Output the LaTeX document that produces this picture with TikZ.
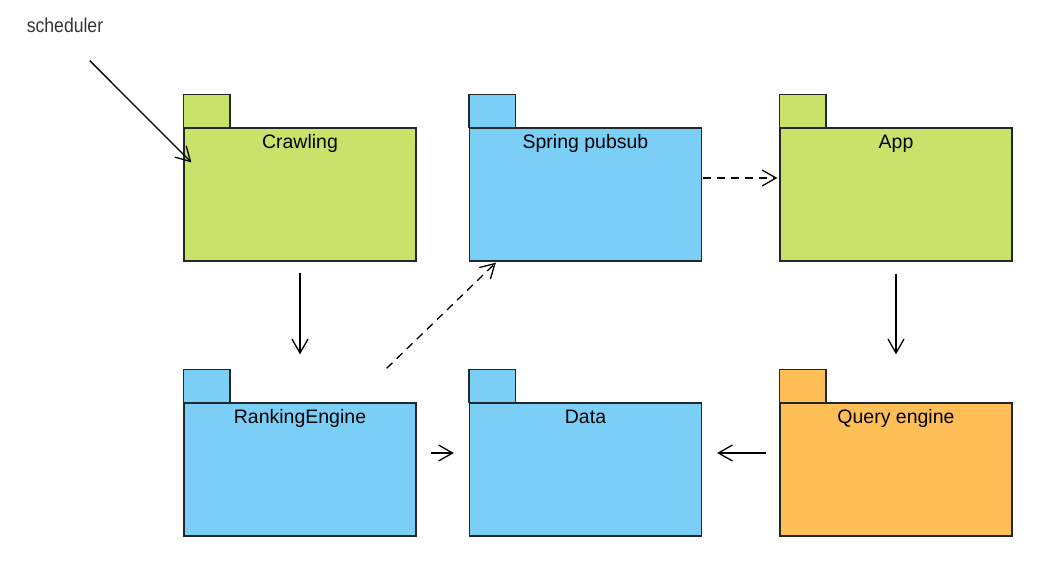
\documentclass[tikz,border=0pt]{standalone}
\usepackage{fontspec}
\setmainfont{Liberation Sans}
\usetikzlibrary{arrows.meta}
\definecolor{pkggreen}{RGB}{203,226,106}
\definecolor{pkgblue}{RGB}{123,206,245}
\definecolor{pkgorange}{RGB}{255,190,86}
\definecolor{pkgline}{RGB}{34,40,40}

\begin{document}
\begin{tikzpicture}[
  x=1pt, y=-1pt,
  pkg/.style={draw=pkgline, line width=1.3pt, minimum width=232pt, minimum height=133pt, inner sep=0pt},
  pkgname/.style={anchor=base, yshift=-21pt, font=\fontsize{19.5}{22}\selectfont, text=black},
  pkgtab/.style={draw=pkgline, line width=1.3pt},
  arr/.style={-{Straight Barb[length=14pt, width=16pt, line width=1.3pt]}, line width=1.3pt},
  dep/.style={arr, dash pattern=on 8pt off 6pt}
]

\useasboundingbox (0,0) rectangle (1058,572);

\node[text=black!80, font=\fontsize{20}{22}\selectfont] (sched) at (65,25) {\scalebox{0.88}[1]{scheduler}};

\node[pkg, fill=pkggreen, label={[pkgname]north:Crawling}] (crawl) at (300,194.5) {};
\node[pkg, fill=pkgblue, label={[pkgname]north:Spring pubsub}] (pubsub) at (585.5,194.5) {};
\node[pkg, fill=pkggreen, label={[pkgname]north:App}] (app) at (896,194.5) {};
\node[pkg, fill=pkgblue, label={[pkgname]north:RankingEngine}] (rank) at (300,469.5) {};
\node[pkg, fill=pkgblue, label={[pkgname]north:Data}] (data) at (585.5,469.5) {};
\node[pkg, fill=pkgorange, label={[pkgname]north:Query engine}] (query) at (896,469.5) {};

% tabs on top of the packages
\foreach \p/\c in {crawl/pkggreen, pubsub/pkgblue, app/pkggreen, rank/pkgblue, data/pkgblue, query/pkgorange}
  \draw[pkgtab, fill=\c] (\p.north west) rectangle ++(46.5,-33);

\coordinate (crawlin) at ([shift={(8,35)}]crawl.north west);

\draw[arr, shorten <=35pt] (sched.south) -- (crawlin);
\draw[arr, shorten <=11pt, shorten >=48pt] (crawl.south) -- (rank.north);
\draw[arr, shorten <=12pt, shorten >=48pt] (app.south) -- (query.north);
\draw[dep, shorten <=1pt, shorten >=2pt] ([yshift=16.5pt]pubsub.east) -- ([yshift=16.5pt]app.west);
\draw[dep] ([shift={(-30,-34)}]rank.north east) -- ([shift={(27,1)}]pubsub.south west);
\draw[arr, shorten <=14pt, shorten >=15pt] ([yshift=16.5pt]rank.east) -- ([yshift=16.5pt]data.west);
\draw[arr, shorten <=13pt, shorten >=15pt] ([yshift=16.5pt]query.west) -- ([yshift=16.5pt]data.east);

\end{tikzpicture}
\end{document}
